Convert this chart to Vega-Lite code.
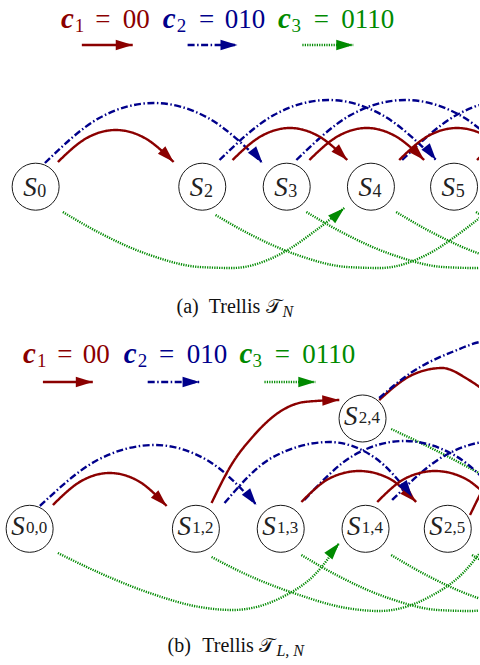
{
  "$schema": "https://vega.github.io/schema/vega-lite/v6.json",
  "width": 480,
  "height": 665,
  "padding": 0,
  "autosize": {"type": "fit", "contains": "padding"},
  "background": "white",
  "config": {"view": {"stroke": null}},
  "datasets": {
    "arcs": [
      {"id": "la1", "k": "c1", "o": 0, "x": 82, "y": 45}, {"id": "la1", "k": "c1", "o": 1, "x": 133, "y": 45},
      {"id": "la2", "k": "c2", "o": 0, "x": 188, "y": 45}, {"id": "la2", "k": "c2", "o": 1, "x": 238, "y": 45},
      {"id": "la3", "k": "c3", "o": 0, "x": 303, "y": 45}, {"id": "la3", "k": "c3", "o": 1, "x": 354, "y": 45},
      {"id": "lb1", "k": "c1", "o": 0, "x": 43, "y": 382}, {"id": "lb1", "k": "c1", "o": 1, "x": 93, "y": 382},
      {"id": "lb2", "k": "c2", "o": 0, "x": 148, "y": 382}, {"id": "lb2", "k": "c2", "o": 1, "x": 200, "y": 382},
      {"id": "lb3", "k": "c3", "o": 0, "x": 265, "y": 382}, {"id": "lb3", "k": "c3", "o": 1, "x": 316, "y": 382},

      {"id": "ag1", "k": "c3", "o": 0, "x": 63, "y": 212}, {"id": "ag1", "k": "c3", "o": 1, "x": 100, "y": 233}, {"id": "ag1", "k": "c3", "o": 2, "x": 150, "y": 255}, {"id": "ag1", "k": "c3", "o": 3, "x": 200, "y": 267}, {"id": "ag1", "k": "c3", "o": 4, "x": 233, "y": 268}, {"id": "ag1", "k": "c3", "o": 5, "x": 283, "y": 253}, {"id": "ag1", "k": "c3", "o": 6, "x": 317, "y": 230}, {"id": "ag1", "k": "c3", "o": 7, "x": 345, "y": 208},
      {"id": "ag2", "k": "c3", "o": 0, "x": 216, "y": 215}, {"id": "ag2", "k": "c3", "o": 1, "x": 248, "y": 233}, {"id": "ag2", "k": "c3", "o": 2, "x": 298, "y": 255}, {"id": "ag2", "k": "c3", "o": 3, "x": 348, "y": 267}, {"id": "ag2", "k": "c3", "o": 4, "x": 381, "y": 268}, {"id": "ag2", "k": "c3", "o": 5, "x": 431, "y": 253}, {"id": "ag2", "k": "c3", "o": 6, "x": 465, "y": 230}, {"id": "ag2", "k": "c3", "o": 7, "x": 493, "y": 208},
      {"id": "ag3", "k": "c3", "o": 0, "x": 307, "y": 212}, {"id": "ag3", "k": "c3", "o": 1, "x": 344, "y": 233}, {"id": "ag3", "k": "c3", "o": 2, "x": 394, "y": 255}, {"id": "ag3", "k": "c3", "o": 3, "x": 444, "y": 267}, {"id": "ag3", "k": "c3", "o": 4, "x": 477, "y": 268}, {"id": "ag3", "k": "c3", "o": 5, "x": 527, "y": 253},
      {"id": "ag4", "k": "c3", "o": 0, "x": 397, "y": 212}, {"id": "ag4", "k": "c3", "o": 1, "x": 434, "y": 233}, {"id": "ag4", "k": "c3", "o": 2, "x": 484, "y": 255}, {"id": "ag4", "k": "c3", "o": 3, "x": 534, "y": 267},
      {"id": "ag5", "k": "c3", "o": 0, "x": 477, "y": 212}, {"id": "ag5", "k": "c3", "o": 1, "x": 514, "y": 233}, {"id": "ag5", "k": "c3", "o": 2, "x": 564, "y": 255},

      {"id": "ab1", "k": "c2", "o": 0, "x": 45, "y": 163}, {"id": "ab1", "k": "c2", "o": 1, "x": 99.5, "y": 118}, {"id": "ab1", "k": "c2", "o": 2, "x": 154, "y": 103}, {"id": "ab1", "k": "c2", "o": 3, "x": 208.5, "y": 118}, {"id": "ab1", "k": "c2", "o": 4, "x": 263, "y": 163},
      {"id": "ab2", "k": "c2", "o": 0, "x": 220, "y": 160}, {"id": "ab2", "k": "c2", "o": 1, "x": 274.5, "y": 115}, {"id": "ab2", "k": "c2", "o": 2, "x": 329, "y": 100}, {"id": "ab2", "k": "c2", "o": 3, "x": 383, "y": 115}, {"id": "ab2", "k": "c2", "o": 4, "x": 437, "y": 160},
      {"id": "ab3", "k": "c2", "o": 0, "x": 297, "y": 160}, {"id": "ab3", "k": "c2", "o": 1, "x": 351.5, "y": 115}, {"id": "ab3", "k": "c2", "o": 2, "x": 406, "y": 100}, {"id": "ab3", "k": "c2", "o": 3, "x": 460.5, "y": 115}, {"id": "ab3", "k": "c2", "o": 4, "x": 515, "y": 160},
      {"id": "ab4", "k": "c2", "o": 0, "x": 403, "y": 160}, {"id": "ab4", "k": "c2", "o": 1, "x": 457.5, "y": 115}, {"id": "ab4", "k": "c2", "o": 2, "x": 512, "y": 100}, {"id": "ab4", "k": "c2", "o": 3, "x": 566.5, "y": 115}, {"id": "ab4", "k": "c2", "o": 4, "x": 621, "y": 160},

      {"id": "ar1", "k": "c1", "o": 0, "x": 58, "y": 162}, {"id": "ar1", "k": "c1", "o": 1, "x": 87, "y": 138}, {"id": "ar1", "k": "c1", "o": 2, "x": 116, "y": 130}, {"id": "ar1", "k": "c1", "o": 3, "x": 145, "y": 138}, {"id": "ar1", "k": "c1", "o": 4, "x": 174, "y": 162},
      {"id": "ar2", "k": "c1", "o": 0, "x": 233, "y": 160}, {"id": "ar2", "k": "c1", "o": 1, "x": 262, "y": 136}, {"id": "ar2", "k": "c1", "o": 2, "x": 290.5, "y": 128}, {"id": "ar2", "k": "c1", "o": 3, "x": 319, "y": 136}, {"id": "ar2", "k": "c1", "o": 4, "x": 348, "y": 160},
      {"id": "ar3", "k": "c1", "o": 0, "x": 310, "y": 160}, {"id": "ar3", "k": "c1", "o": 1, "x": 339, "y": 136}, {"id": "ar3", "k": "c1", "o": 2, "x": 367.5, "y": 128}, {"id": "ar3", "k": "c1", "o": 3, "x": 396, "y": 136}, {"id": "ar3", "k": "c1", "o": 4, "x": 425, "y": 160},
      {"id": "ar4", "k": "c1", "o": 0, "x": 400, "y": 160}, {"id": "ar4", "k": "c1", "o": 1, "x": 429, "y": 136}, {"id": "ar4", "k": "c1", "o": 2, "x": 458, "y": 128}, {"id": "ar4", "k": "c1", "o": 3, "x": 487, "y": 136}, {"id": "ar4", "k": "c1", "o": 4, "x": 516, "y": 160},
      {"id": "ar5", "k": "c1", "o": 0, "x": 478, "y": 160}, {"id": "ar5", "k": "c1", "o": 1, "x": 507, "y": 136}, {"id": "ar5", "k": "c1", "o": 2, "x": 536, "y": 128}, {"id": "ar5", "k": "c1", "o": 3, "x": 565, "y": 136}, {"id": "ar5", "k": "c1", "o": 4, "x": 594, "y": 160},

      {"id": "bg1", "k": "c3", "o": 0, "x": 58, "y": 553}, {"id": "bg1", "k": "c3", "o": 1, "x": 100, "y": 573}, {"id": "bg1", "k": "c3", "o": 2, "x": 150, "y": 593}, {"id": "bg1", "k": "c3", "o": 3, "x": 200, "y": 607}, {"id": "bg1", "k": "c3", "o": 4, "x": 233, "y": 610}, {"id": "bg1", "k": "c3", "o": 5, "x": 283, "y": 597}, {"id": "bg1", "k": "c3", "o": 6, "x": 317, "y": 573}, {"id": "bg1", "k": "c3", "o": 7, "x": 340, "y": 543},
      {"id": "bg2", "k": "c3", "o": 0, "x": 212, "y": 557}, {"id": "bg2", "k": "c3", "o": 1, "x": 248, "y": 575}, {"id": "bg2", "k": "c3", "o": 2, "x": 297, "y": 594}, {"id": "bg2", "k": "c3", "o": 3, "x": 347, "y": 608}, {"id": "bg2", "k": "c3", "o": 4, "x": 380, "y": 611}, {"id": "bg2", "k": "c3", "o": 5, "x": 430, "y": 597}, {"id": "bg2", "k": "c3", "o": 6, "x": 464, "y": 573}, {"id": "bg2", "k": "c3", "o": 7, "x": 487, "y": 545},
      {"id": "bg3", "k": "c3", "o": 0, "x": 302, "y": 555}, {"id": "bg3", "k": "c3", "o": 1, "x": 339, "y": 576}, {"id": "bg3", "k": "c3", "o": 2, "x": 389, "y": 598}, {"id": "bg3", "k": "c3", "o": 3, "x": 439, "y": 610}, {"id": "bg3", "k": "c3", "o": 4, "x": 472, "y": 611}, {"id": "bg3", "k": "c3", "o": 5, "x": 522, "y": 596},
      {"id": "bg4", "k": "c3", "o": 0, "x": 392, "y": 555}, {"id": "bg4", "k": "c3", "o": 1, "x": 429, "y": 576}, {"id": "bg4", "k": "c3", "o": 2, "x": 479, "y": 598}, {"id": "bg4", "k": "c3", "o": 3, "x": 529, "y": 610},
      {"id": "bg5", "k": "c3", "o": 0, "x": 473, "y": 555}, {"id": "bg5", "k": "c3", "o": 1, "x": 510, "y": 576}, {"id": "bg5", "k": "c3", "o": 2, "x": 560, "y": 598},
      {"id": "bg6", "k": "c3", "o": 0, "x": 392, "y": 429}, {"id": "bg6", "k": "c3", "o": 1, "x": 436, "y": 450}, {"id": "bg6", "k": "c3", "o": 2, "x": 480, "y": 473}, {"id": "bg6", "k": "c3", "o": 3, "x": 530, "y": 500},

      {"id": "bb1", "k": "c2", "o": 0, "x": 40, "y": 506}, {"id": "bb1", "k": "c2", "o": 1, "x": 96, "y": 461}, {"id": "bb1", "k": "c2", "o": 2, "x": 155, "y": 445}, {"id": "bb1", "k": "c2", "o": 3, "x": 209, "y": 461}, {"id": "bb1", "k": "c2", "o": 4, "x": 257, "y": 505},
      {"id": "bb2", "k": "c2", "o": 0, "x": 225, "y": 503}, {"id": "bb2", "k": "c2", "o": 1, "x": 272, "y": 458}, {"id": "bb2", "k": "c2", "o": 2, "x": 330, "y": 442}, {"id": "bb2", "k": "c2", "o": 3, "x": 376, "y": 458}, {"id": "bb2", "k": "c2", "o": 4, "x": 413, "y": 497},
      {"id": "bb3", "k": "c2", "o": 0, "x": 305, "y": 500}, {"id": "bb3", "k": "c2", "o": 1, "x": 355, "y": 455}, {"id": "bb3", "k": "c2", "o": 2, "x": 405, "y": 441}, {"id": "bb3", "k": "c2", "o": 3, "x": 455, "y": 455}, {"id": "bb3", "k": "c2", "o": 4, "x": 505, "y": 500},
      {"id": "bb4", "k": "c2", "o": 0, "x": 393, "y": 500}, {"id": "bb4", "k": "c2", "o": 1, "x": 445, "y": 456}, {"id": "bb4", "k": "c2", "o": 2, "x": 497, "y": 441}, {"id": "bb4", "k": "c2", "o": 3, "x": 549, "y": 456}, {"id": "bb4", "k": "c2", "o": 4, "x": 601, "y": 500},

      {"id": "br1", "k": "c1", "o": 0, "x": 53, "y": 505}, {"id": "br1", "k": "c1", "o": 1, "x": 81.5, "y": 481}, {"id": "br1", "k": "c1", "o": 2, "x": 110, "y": 473}, {"id": "br1", "k": "c1", "o": 3, "x": 138.5, "y": 481}, {"id": "br1", "k": "c1", "o": 4, "x": 167, "y": 506},
      {"id": "br2", "k": "c1", "o": 0, "x": 212, "y": 503}, {"id": "br2", "k": "c1", "o": 1, "x": 233, "y": 463}, {"id": "br2", "k": "c1", "o": 2, "x": 253, "y": 437}, {"id": "br2", "k": "c1", "o": 3, "x": 280, "y": 412}, {"id": "br2", "k": "c1", "o": 4, "x": 305, "y": 402}, {"id": "br2", "k": "c1", "o": 5, "x": 340, "y": 400},
      {"id": "br3", "k": "c1", "o": 0, "x": 302, "y": 502}, {"id": "br3", "k": "c1", "o": 1, "x": 331, "y": 478}, {"id": "br3", "k": "c1", "o": 2, "x": 360, "y": 471}, {"id": "br3", "k": "c1", "o": 3, "x": 389, "y": 478}, {"id": "br3", "k": "c1", "o": 4, "x": 417, "y": 502},
      {"id": "br4", "k": "c1", "o": 0, "x": 378, "y": 502}, {"id": "br4", "k": "c1", "o": 1, "x": 407, "y": 478}, {"id": "br4", "k": "c1", "o": 2, "x": 436, "y": 471}, {"id": "br4", "k": "c1", "o": 3, "x": 465, "y": 478}, {"id": "br4", "k": "c1", "o": 4, "x": 494, "y": 502},
      {"id": "br5", "k": "c1", "o": 0, "x": 471, "y": 515}, {"id": "br5", "k": "c1", "o": 1, "x": 492, "y": 475}, {"id": "br5", "k": "c1", "o": 2, "x": 512, "y": 449}, {"id": "br5", "k": "c1", "o": 3, "x": 539, "y": 424},
      {"id": "br6", "k": "c1", "o": 0, "x": 380, "y": 400}, {"id": "br6", "k": "c1", "o": 1, "x": 413, "y": 375}, {"id": "br6", "k": "c1", "o": 2, "x": 443, "y": 368}, {"id": "br6", "k": "c1", "o": 3, "x": 470, "y": 380}, {"id": "br6", "k": "c1", "o": 4, "x": 497, "y": 400},
      {"id": "bb5", "k": "c2", "o": 0, "x": 380, "y": 398}, {"id": "bb5", "k": "c2", "o": 1, "x": 413, "y": 372}, {"id": "bb5", "k": "c2", "o": 2, "x": 453, "y": 352}, {"id": "bb5", "k": "c2", "o": 3, "x": 490, "y": 341}, {"id": "bb5", "k": "c2", "o": 4, "x": 540, "y": 350}, {"id": "bb5", "k": "c2", "o": 5, "x": 597, "y": 398}
    ],
    "heads": [
      {"x": 133, "y": 45, "k": "c1", "a": 0}, {"x": 238, "y": 45, "k": "c2", "a": 0}, {"x": 354, "y": 45, "k": "c3", "a": 0},
      {"x": 174, "y": 162, "k": "c1", "a": 45}, {"x": 348, "y": 160, "k": "c1", "a": 45}, {"x": 425, "y": 160, "k": "c1", "a": 45},
      {"x": 263, "y": 163, "k": "c2", "a": 52}, {"x": 437, "y": 160, "k": "c2", "a": 52}, {"x": 345, "y": 208, "k": "c3", "a": -42},
      {"x": 93, "y": 382, "k": "c1", "a": 0}, {"x": 200, "y": 382, "k": "c2", "a": 0}, {"x": 316, "y": 382, "k": "c3", "a": 0},
      {"x": 167, "y": 506, "k": "c1", "a": 45}, {"x": 340, "y": 400, "k": "c1", "a": -2}, {"x": 417, "y": 502, "k": "c1", "a": 45},
      {"x": 257, "y": 505, "k": "c2", "a": 52}, {"x": 413, "y": 497, "k": "c2", "a": 55}, {"x": 340, "y": 543, "k": "c3", "a": -50}
    ],
    "nodes": [
      {"p": "a", "x": 35.7, "y": 186.7, "sub": "0"}, {"p": "a", "x": 202.7, "y": 186.7, "sub": "2"}, {"p": "a", "x": 287.3, "y": 186.7, "sub": "3"}, {"p": "a", "x": 371.7, "y": 186.7, "sub": "4"}, {"p": "a", "x": 455, "y": 186.7, "sub": "5"},
      {"p": "b", "x": 29.7, "y": 528.8, "sub": "0,0"}, {"p": "b", "x": 196.3, "y": 528.8, "sub": "1,2"}, {"p": "b", "x": 281.3, "y": 528.8, "sub": "1,3"}, {"p": "b", "x": 366.3, "y": 528.8, "sub": "1,4"}, {"p": "b", "x": 448.7, "y": 528.8, "sub": "2,5"}, {"p": "b", "x": 363.3, "y": 418.5, "sub": "2,4"}
    ],
    "texts": [
      {"r": "bc", "k": "c1", "t": "c", "x": 67.5, "y": 28}, {"r": "bc", "k": "c2", "t": "c", "x": 169.5, "y": 28}, {"r": "bc", "k": "c3", "t": "c", "x": 285, "y": 28},
      {"r": "sub", "k": "c1", "t": "1", "x": 75, "y": 32}, {"r": "sub", "k": "c2", "t": "2", "x": 177, "y": 32}, {"r": "sub", "k": "c3", "t": "3", "x": 292, "y": 32},
      {"r": "rel", "k": "c1", "t": "=", "x": 103, "y": 28}, {"r": "rel", "k": "c1", "t": "00", "x": 136.5, "y": 28},
      {"r": "rel", "k": "c2", "t": "=", "x": 207, "y": 28}, {"r": "rel", "k": "c2", "t": "010", "x": 245.5, "y": 28},
      {"r": "rel", "k": "c3", "t": "=", "x": 322, "y": 28}, {"r": "rel", "k": "c3", "t": "0110", "x": 368.5, "y": 28},
      {"r": "bc", "k": "c1", "t": "c", "x": 29.5, "y": 363}, {"r": "bc", "k": "c2", "t": "c", "x": 130.5, "y": 363}, {"r": "bc", "k": "c3", "t": "c", "x": 246.5, "y": 363},
      {"r": "sub", "k": "c1", "t": "1", "x": 37, "y": 367}, {"r": "sub", "k": "c2", "t": "2", "x": 138, "y": 367}, {"r": "sub", "k": "c3", "t": "3", "x": 253, "y": 367},
      {"r": "rel", "k": "c1", "t": "=", "x": 65, "y": 363}, {"r": "rel", "k": "c1", "t": "00", "x": 96.5, "y": 363},
      {"r": "rel", "k": "c2", "t": "=", "x": 167, "y": 363}, {"r": "rel", "k": "c2", "t": "010", "x": 207.5, "y": 363},
      {"r": "rel", "k": "c3", "t": "=", "x": 283, "y": 363}, {"r": "rel", "k": "c3", "t": "0110", "x": 329.5, "y": 363},
      {"r": "rm", "k": "n", "t": "(a)", "x": 188, "y": 313}, {"r": "rm", "k": "n", "t": "Trellis", "x": 235, "y": 313},
      {"r": "rm", "k": "n", "t": "(b)", "x": 179.5, "y": 651.5}, {"r": "rm", "k": "n", "t": "Trellis", "x": 228.5, "y": 651.5},
      {"r": "cal", "k": "n", "t": "𝒯", "x": 274, "y": 313}, {"r": "cal", "k": "n", "t": "𝒯", "x": 267.5, "y": 651.5},
      {"r": "csub", "k": "n", "t": "N", "x": 283, "y": 317}, {"r": "csub", "k": "n", "t": "L, N", "x": 277, "y": 655.5}
    ]
  },
  "encoding": {
    "x": {"field": "x", "type": "quantitative", "scale": {"domain": [0, 480], "nice": false, "zero": false}, "axis": null},
    "y": {"field": "y", "type": "quantitative", "scale": {"domain": [0, 665], "reverse": true, "nice": false, "zero": false}, "axis": null}
  },
  "layer": [
    {
      "data": {"name": "arcs"},
      "mark": {"type": "line", "interpolate": "monotone", "clip": true, "strokeWidth": 2.4},
      "encoding": {
        "detail": {"field": "id", "type": "nominal"},
        "order": {"field": "o", "type": "quantitative"},
        "color": {"field": "k", "type": "nominal", "scale": {"domain": ["c1", "c2", "c3", "n"], "range": ["#8B0000", "#00008B", "#008A00", "#111111"]}, "legend": null},
        "strokeDash": {"field": "k", "type": "nominal", "scale": {"domain": ["c1", "c2", "c3"], "range": [[1, 0], [7, 2.5, 1.5, 2.5], [1.2, 1.2]]}, "legend": null}
      }
    },
    {
      "data": {"name": "nodes"},
      "mark": {"type": "point", "shape": "circle", "size": 2209, "filled": true, "fill": "white", "stroke": "#1a1a1a", "strokeWidth": 1, "opacity": 1}
    },
    {
      "data": {"name": "heads"},
      "mark": {"type": "point", "shape": "M0,0L-2,-0.62L-2,0.62Z", "size": 289, "filled": true, "opacity": 1, "strokeWidth": 0},
      "encoding": {
        "color": {"field": "k", "type": "nominal", "scale": {"domain": ["c1", "c2", "c3", "n"], "range": ["#8B0000", "#00008B", "#008A00", "#111111"]}, "legend": null},
        "angle": {"field": "a", "type": "quantitative", "scale": null}
      }
    },
    {
      "data": {"name": "nodes"},
      "transform": [{"filter": "datum.p == 'a'"}],
      "mark": {"type": "text", "font": "Liberation Serif", "fontStyle": "italic", "fontSize": 27, "align": "center", "baseline": "alphabetic", "dx": -5.7, "dy": 9.3, "color": "#222222"},
      "encoding": {"text": {"value": "S"}}
    },
    {
      "data": {"name": "nodes"},
      "transform": [{"filter": "datum.p == 'a'"}],
      "mark": {"type": "text", "font": "Liberation Serif", "fontSize": 18, "align": "left", "baseline": "alphabetic", "dx": 1.6, "dy": 10.6, "color": "#222222"},
      "encoding": {"text": {"field": "sub"}}
    },
    {
      "data": {"name": "nodes"},
      "transform": [{"filter": "datum.p == 'b'"}],
      "mark": {"type": "text", "font": "Liberation Serif", "fontStyle": "italic", "fontSize": 27, "align": "center", "baseline": "alphabetic", "dx": -11.7, "dy": 6.2, "color": "#222222"},
      "encoding": {"text": {"value": "S"}}
    },
    {
      "data": {"name": "nodes"},
      "transform": [{"filter": "datum.p == 'b'"}],
      "mark": {"type": "text", "font": "Liberation Serif", "fontSize": 17, "align": "left", "baseline": "alphabetic", "dx": -3.7, "dy": 4.5, "color": "#222222"},
      "encoding": {"text": {"field": "sub"}}
    },
    {
      "data": {"name": "texts"},
      "transform": [{"filter": "datum.r == 'bc'"}],
      "mark": {"type": "text", "font": "Liberation Serif", "fontStyle": "italic", "fontWeight": "bold", "fontSize": 29, "align": "center", "baseline": "alphabetic"},
      "encoding": {"text": {"field": "t"}, "color": {"field": "k", "type": "nominal", "scale": {"domain": ["c1", "c2", "c3", "n"], "range": ["#8B0000", "#00008B", "#008A00", "#111111"]}, "legend": null}}
    },
    {
      "data": {"name": "texts"},
      "transform": [{"filter": "datum.r == 'sub'"}],
      "mark": {"type": "text", "font": "Liberation Serif", "fontSize": 19, "align": "left", "baseline": "alphabetic"},
      "encoding": {"text": {"field": "t"}, "color": {"field": "k", "type": "nominal", "scale": {"domain": ["c1", "c2", "c3", "n"], "range": ["#8B0000", "#00008B", "#008A00", "#111111"]}, "legend": null}}
    },
    {
      "data": {"name": "texts"},
      "transform": [{"filter": "datum.r == 'rel'"}],
      "mark": {"type": "text", "font": "Liberation Serif", "fontSize": 27, "align": "center", "baseline": "alphabetic"},
      "encoding": {"text": {"field": "t"}, "color": {"field": "k", "type": "nominal", "scale": {"domain": ["c1", "c2", "c3", "n"], "range": ["#8B0000", "#00008B", "#008A00", "#111111"]}, "legend": null}}
    },
    {
      "data": {"name": "texts"},
      "transform": [{"filter": "datum.r == 'rm'"}],
      "mark": {"type": "text", "font": "Liberation Serif", "fontSize": 20, "align": "center", "baseline": "alphabetic", "color": "#111111"},
      "encoding": {"text": {"field": "t"}}
    },
    {
      "data": {"name": "texts"},
      "transform": [{"filter": "datum.r == 'cal'"}],
      "mark": {"type": "text", "font": "DejaVu Serif", "fontSize": 20, "align": "center", "baseline": "alphabetic", "color": "#111111"},
      "encoding": {"text": {"field": "t"}}
    },
    {
      "data": {"name": "texts"},
      "transform": [{"filter": "datum.r == 'csub'"}],
      "mark": {"type": "text", "font": "Liberation Serif", "fontStyle": "italic", "fontSize": 16, "align": "left", "baseline": "alphabetic", "color": "#111111"},
      "encoding": {"text": {"field": "t"}}
    }
  ]
}
